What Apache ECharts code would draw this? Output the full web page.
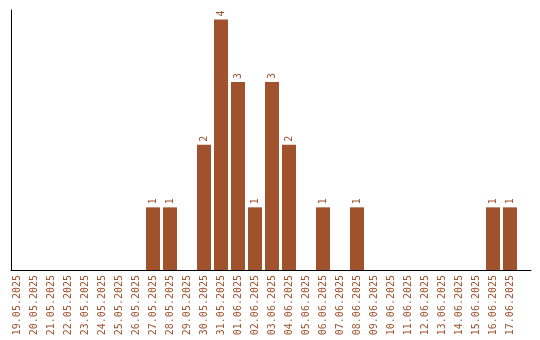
<!DOCTYPE html>
<html><head><meta charset="utf-8">
<script src="https://cdn.jsdelivr.net/npm/echarts@6/dist/echarts.min.js"></script>
<style>html,body{margin:0;padding:0;background:#fff}#c{width:540px;height:340px}</style>
</head><body><div id="c"></div>
<script>
const categories = ["19.05.2025","20.05.2025","21.05.2025","22.05.2025","23.05.2025","24.05.2025","25.05.2025","26.05.2025","27.05.2025","28.05.2025","29.05.2025","30.05.2025","31.05.2025","01.06.2025","02.06.2025","03.06.2025","04.06.2025","05.06.2025","06.06.2025","07.06.2025","08.06.2025","09.06.2025","10.06.2025","11.06.2025","12.06.2025","13.06.2025","14.06.2025","15.06.2025","16.06.2025","17.06.2025"];
const values = [0,0,0,0,0,0,0,0,1,1,0,2,4,3,1,3,2,0,1,0,1,0,0,0,0,0,0,0,1,1];
const color = '#A0522D';
const font = 'DejaVu Sans Mono';
const chart = echarts.init(document.getElementById('c'), null, {renderer:'canvas'});
chart.setOption({
  animation:false,
  grid:[
    {left:11, right:9, top:10, bottom:70},
    {left:8.5, right:21.5, top:10, bottom:70}
  ],
  xAxis:[
    {gridIndex:0, type:'value', min:0, max:1, axisLine:{show:true,lineStyle:{color:'#000',width:1}}, axisTick:{show:false}, axisLabel:{show:false}, splitLine:{show:false}},
    {gridIndex:1, type:'category', data:categories, axisLine:{show:false}, axisTick:{show:false},
     axisLabel:{interval:0, rotate:90, color:color, fontFamily:font, fontSize:10, margin:5}}
  ],
  yAxis:[
    {gridIndex:0, type:'value', min:0, max:1, axisLine:{show:true,lineStyle:{color:'#000',width:1}}, axisTick:{show:false}, axisLabel:{show:false}, splitLine:{show:false}},
    {gridIndex:1, type:'value', min:0, max:4.15, show:false, splitLine:{show:false}}
  ],
  series:[{
    type:'bar', xAxisIndex:1, yAxisIndex:1, barWidth:14,
    data: values.map(v => v === 0 ? null : v),
    itemStyle:{color:color},
    label:{show:true, position:'top', rotate:90, align:'left', verticalAlign:'middle', distance:3, color:color, fontFamily:font, fontSize:10}
  }]
});
</script></body></html>
